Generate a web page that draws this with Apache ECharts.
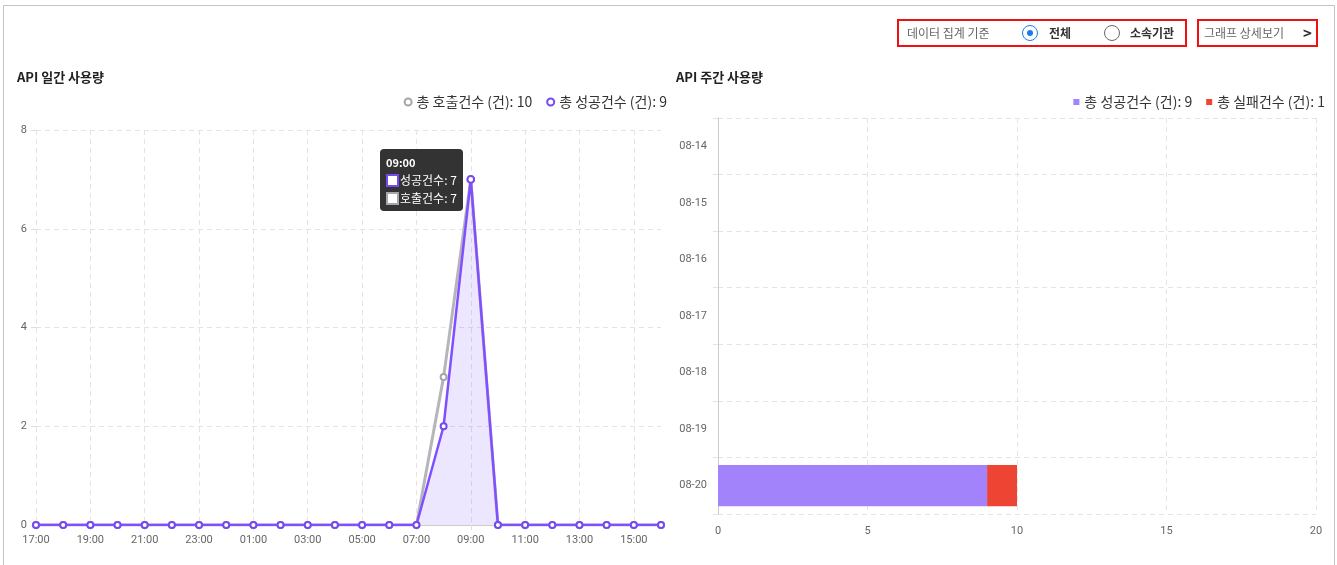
<!DOCTYPE html>
<html>
<head>
<meta charset="utf-8">
<script src="https://cdn.jsdelivr.net/npm/echarts@6/dist/echarts.min.js"></script>
<style>
  html, body { margin: 0; padding: 0; background: #fff; font-family: "Noto Sans CJK KR", "Noto Sans", sans-serif; }
  .wrap { position: absolute; left: 3px; top: 5px; width: 1330px; height: 570px; border: 1px solid #c4c4c4; border-bottom: none; }
  #chart { position: absolute; left: 0; top: 0; width: 1337px; height: 565px; }
  .box { position: absolute; top: 19px; height: 24px; border: 2px solid #ee1111; font-size: 12px; color: #666; line-height: 24px; z-index: 2; }
  .filter { left: 897px; width: 286px; }
  .detail { left: 1197px; width: 117px; }
  .lbl { position: absolute; white-space: nowrap; }
  .radio { position: absolute; top: 4px; width: 16px; height: 16px; border: 1.5px solid #666; border-radius: 50%; box-sizing: border-box; }
  .radio.on { border-color: #1a7ce8; }
  .radio.on::after { content: ''; position: absolute; left: 3.5px; top: 3.5px; width: 6px; height: 6px; border-radius: 50%; background: #1a7ce8; }
  .opt { color: #333; font-weight: bold; }
</style>
</head>
<body>
<div class="wrap"></div>
<div id="chart"></div>
<div class="box filter">
  <span class="lbl" style="left:8px">데이터 집계 기준</span>
  <span class="radio on" style="left:123px"></span>
  <span class="lbl opt" style="left:150px">전체</span>
  <span class="radio" style="left:205px"></span>
  <span class="lbl opt" style="left:231px">소속기관</span>
</div>
<div class="box detail">
  <span class="lbl" style="left:5px">그래프 상세보기</span>
  <span class="lbl" style="left:104px;color:#333;font-size:15px;font-weight:bold">&gt;</span>
</div>
<script>
  // 일간 (시간별)
  var hours = ['17:00', '18:00', '19:00', '20:00', '21:00', '22:00', '23:00', '00:00', '01:00', '02:00', '03:00', '04:00',
    '05:00', '06:00', '07:00', '08:00', '09:00', '10:00', '11:00', '12:00', '13:00', '14:00', '15:00', '16:00'];
  var successDaily = [0, 0, 0, 0, 0, 0, 0, 0, 0, 0, 0, 0, 0, 0, 0, 2, 7, 0, 0, 0, 0, 0, 0, 0];
  var callDaily = [0, 0, 0, 0, 0, 0, 0, 0, 0, 0, 0, 0, 0, 0, 0, 3, 7, 0, 0, 0, 0, 0, 0, 0];

  // 주간 (일별)
  var days = ['08-14', '08-15', '08-16', '08-17', '08-18', '08-19', '08-20'];
  var successWeekly = [0, 0, 0, 0, 0, 0, 9];
  var failWeekly = [0, 0, 0, 0, 0, 0, 1];

  function sum(arr) {
    return arr.reduce(function (a, b) { return a + b; }, 0);
  }
  var totals = {
    '호출건수': sum(callDaily),
    '성공건수': sum(successDaily),
    '실패건수': sum(failWeekly)
  };
  totals.weekSuccess = sum(successWeekly);

  var purple = '#7549f2';
  var gray = '#a4a6aa';
  var axisLabel = { color: '#666', fontSize: 11, fontFamily: 'Roboto, sans-serif' };
  var splitDash = { show: true, lineStyle: { color: '#e4e4e4', type: [5, 4] } };

  var myChart = echarts.init(document.getElementById('chart'));
  myChart.setOption({
    textStyle: { fontFamily: '"Noto Sans CJK KR", sans-serif' },
    title: [{
      text: 'API 일간 사용량',
      left: 12, top: 66,
      textStyle: { fontSize: 13, fontWeight: 'bold', color: '#222' }
    }, {
      text: 'API 주간 사용량',
      left: 671, top: 66,
      textStyle: { fontSize: 13, fontWeight: 'bold', color: '#222' }
    }],
    legend: [{
      data: ['호출건수', '성공건수'],
      right: 665, top: 90,
      icon: 'emptyCircle',
      itemWidth: 7, itemHeight: 7, itemGap: 14,
      textStyle: { fontSize: 14, color: '#333' },
      formatter: function (name) { return '총 ' + name + ' (건): ' + totals[name]; }
    }, {
      data: ['성공건수 ', '실패건수'],
      right: 7, top: 90,
      icon: 'rect',
      itemWidth: 6, itemHeight: 6, itemGap: 14,
      textStyle: { fontSize: 14, color: '#333' },
      formatter: function (name) {
        if (name === '실패건수') return '총 실패건수 (건): ' + totals['실패건수'];
        return '총 성공건수 (건): ' + totals.weekSuccess;
      }
    }],
    tooltip: {
      trigger: 'axis',
      alwaysShowContent: true,
      axisPointer: { type: 'none' },
      backgroundColor: 'rgba(40,40,40,0.95)',
      borderWidth: 0,
      padding: [4, 6],
      extraCssText: 'border-radius:4px;box-shadow:none;',
      textStyle: { color: '#fff', fontSize: 12 },
      position: function (point, params, dom, rect, size) {
        return [point[0] - size.contentSize[0] - 8, point[1] - 30];
      },
      formatter: function (params) {
        var html = '<div style="font-weight:bold;font-size:11px;line-height:18px">' + params[0].axisValue + '</div>';
        params.forEach(function (p) {
          html += '<div style="line-height:18px"><span style="display:inline-block;width:9px;height:9px;background:#fff;border:2px solid ' +
            p.color + ';vertical-align:-2px;margin-right:1px"></span>' + p.seriesName + ': ' + p.value + '</div>';
        });
        return html;
      }
    },
    grid: [
      { left: 36, right: 676, top: 130, bottom: 40 },
      { left: 718, right: 21, top: 118, bottom: 51 }
    ],
    xAxis: [{
      gridIndex: 0,
      type: 'category',
      data: hours,
      boundaryGap: false,
      axisLine: { lineStyle: { color: '#ccc' } },
      axisTick: { interval: 1, length: 5, lineStyle: { color: '#ddd' } },
      axisLabel: Object.assign({ interval: 1, margin: 10 }, axisLabel),
      splitLine: { show: true, interval: 1, lineStyle: { color: '#e4e4e4', type: [5, 4] } }
    }, {
      gridIndex: 1,
      type: 'value',
      min: 0, max: 20, interval: 5,
      axisLine: { show: false },
      axisTick: { show: false },
      axisLabel: Object.assign({ margin: 12 }, axisLabel),
      splitLine: splitDash
    }],
    yAxis: [{
      gridIndex: 0,
      type: 'value',
      min: 0, max: 8, interval: 2,
      axisLine: { show: false },
      axisTick: { show: true, length: 5, lineStyle: { color: '#ddd' } },
      axisLabel: Object.assign({ margin: 9 }, axisLabel),
      splitLine: splitDash
    }, {
      gridIndex: 1,
      type: 'category',
      data: days,
      inverse: true,
      axisLine: { show: true, lineStyle: { color: '#ccc' } },
      axisTick: { show: true, length: 7, lineStyle: { color: '#e4e4e4', type: [5, 4] } },
      axisLabel: Object.assign({ margin: 11 }, axisLabel),
      splitLine: splitDash
    }],
    series: [{
      name: '성공건수',
      type: 'line',
      xAxisIndex: 0, yAxisIndex: 0,
      z: 3,
      data: successDaily,
      symbol: 'emptyCircle',
      symbolSize: 6,
      itemStyle: { color: purple, borderWidth: 2 },
      lineStyle: { color: purple, width: 2.5 },
      areaStyle: { color: 'rgba(117,73,242,0.2)' }
    }, {
      name: '호출건수',
      type: 'line',
      xAxisIndex: 0, yAxisIndex: 0,
      z: 2,
      data: callDaily,
      symbol: 'emptyCircle',
      symbolSize: 6,
      itemStyle: { color: gray, borderWidth: 2 },
      lineStyle: { color: gray, width: 3 }
    }, {
      name: '성공건수 ',
      type: 'bar',
      stack: 'week',
      xAxisIndex: 1, yAxisIndex: 1,
      barWidth: '73%',
      data: successWeekly,
      itemStyle: { color: '#a283fb' }
    }, {
      name: '실패건수',
      type: 'bar',
      stack: 'week',
      xAxisIndex: 1, yAxisIndex: 1,
      barWidth: '73%',
      data: failWeekly,
      itemStyle: { color: '#ee4433' }
    }],
    animation: false
  });

  myChart.dispatchAction({ type: 'showTip', seriesIndex: 0, dataIndex: hours.indexOf('09:00') });
</script>
</body>
</html>
